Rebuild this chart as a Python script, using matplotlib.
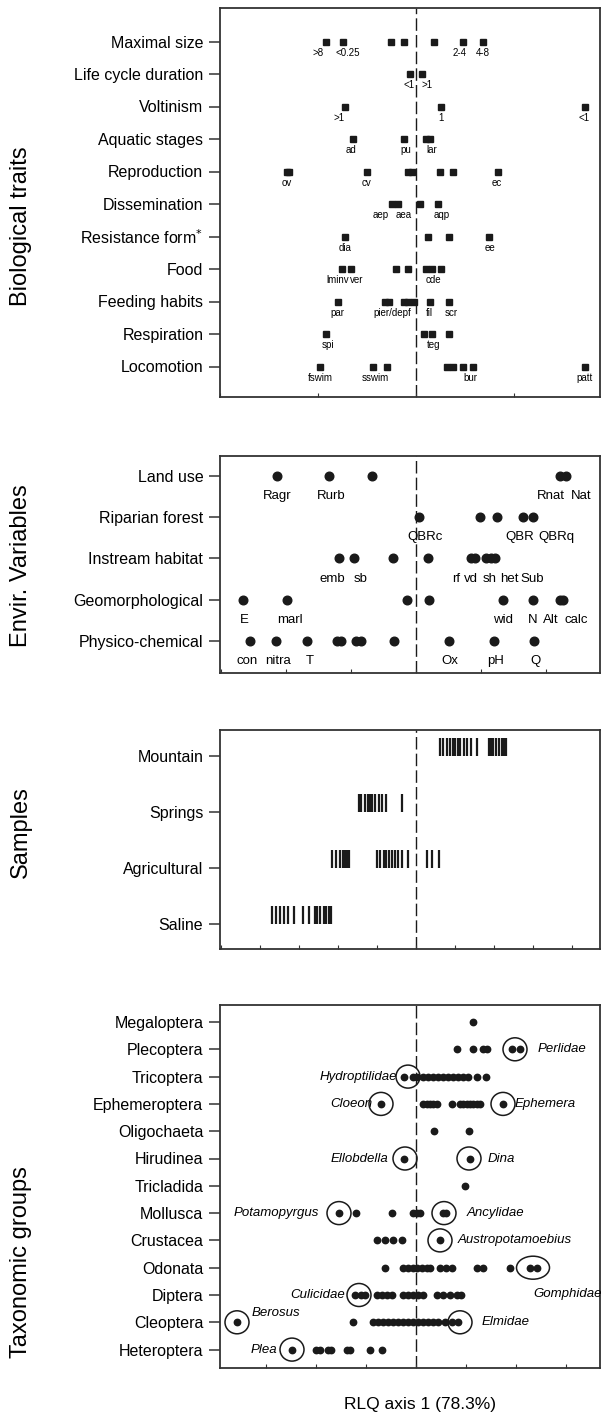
import matplotlib
matplotlib.use("Agg")
import matplotlib.pyplot as plt
from matplotlib.patches import Ellipse

plt.rcParams['font.family'] = ['Liberation Sans', 'DejaVu Sans']

# ---------------- data ----------------
# Biological traits (RLQ axis 1 scores of trait modalities)
trait_rows = ['Maximal size', 'Life cycle duration', 'Voltinism', 'Aquatic stages',
              'Reproduction', 'Dissemination', 'Resistance form$^{*}$', 'Food',
              'Feeding habits', 'Respiration', 'Locomotion']
trait_x = [
    [-0.46, -0.37, -0.13, -0.06, 0.09, 0.24, 0.34],
    [-0.03, 0.03],
    [-0.36, 0.13, 0.86],
    [-0.32, -0.06, 0.05, 0.07],
    [-0.66, -0.65, -0.25, -0.04, -0.02, 0.12, 0.19, 0.42],
    [-0.12, -0.09, 0.02, 0.11],
    [-0.36, 0.06, 0.17, 0.37],
    [-0.38, -0.33, -0.10, -0.04, 0.05, 0.08, 0.13],
    [-0.40, -0.16, -0.14, -0.06, -0.04, -0.01, 0.07, 0.17],
    [-0.46, 0.04, 0.08, 0.17],
    [-0.49, -0.22, -0.15, 0.16, 0.19, 0.24, 0.29, 0.86],
]
trait_lab = [
    [('>8', -0.50), ('<0.25', -0.35), ('2-4', 0.22), ('4-8', 0.34)],
    [('<1', -0.035), ('>1', 0.056)],
    [('>1', -0.39), ('1', 0.13), ('<1', 0.86)],
    [('ad', -0.33), ('pu', -0.05), ('lar', 0.08)],
    [('ov', -0.66), ('cv', -0.25), ('ec', 0.41)],
    [('aep', -0.18), ('aea', -0.065), ('aqp', 0.13)],
    [('dia', -0.36), ('ee', 0.38)],
    [('lminv', -0.40), ('ver', -0.30), ('cde', 0.09)],
    [('par', -0.40), ('pier/depf', -0.12), ('fil', 0.07), ('scr', 0.18)],
    [('spi', -0.45), ('teg', 0.09)],
    [('fswim', -0.49), ('sswim', -0.21), ('bur', 0.28), ('patt', 0.86)],
]

# Environmental variables
env_rows = ['Land use', 'Riparian forest', 'Instream habitat', 'Geomorphological',
            'Physico-chemical']
env_x = [
    [-1.07, -0.67, -0.34, 1.11, 1.15],
    [0.02, 0.49, 0.62, 0.82, 0.90],
    [-0.59, -0.48, -0.18, 0.09, 0.42, 0.45, 0.54, 0.58, 0.61],
    [-1.33, -0.99, -0.07, 0.10, 0.67, 0.90, 1.11, 1.13],
    [-1.28, -1.08, -0.84, -0.61, -0.58, -0.46, -0.42, -0.17, 0.25, 0.60, 0.91],
]
env_lab = [
    [('Ragr', -1.07), ('Rurb', -0.65), ('Rnat', 1.04), ('Nat', 1.27)],
    [('QBRc', 0.07), ('QBR', 0.80), ('QBRq', 1.08)],
    [('emb', -0.64), ('sb', -0.43), ('rf', 0.31), ('vd', 0.42), ('sh', 0.57),
     ('het', 0.72), ('Sub', 0.89)],
    [('E', -1.32), ('marl', -0.97), ('wid', 0.67), ('N', 0.90), ('Alt', 1.04),
     ('calc', 1.23)],
    [('con', -1.30), ('nitra', -1.06), ('T', -0.82), ('Ox', 0.26), ('pH', 0.61),
     ('Q', 0.92)],
]

# Samples
sample_rows = ['Mountain', 'Springs', 'Agricultural', 'Saline']
sample_x = [
    [0.31, 0.35, 0.40, 0.44, 0.47, 0.50, 0.54, 0.56, 0.61, 0.66, 0.70, 0.78,
     0.93, 0.96, 0.99, 1.03, 1.06, 1.10, 1.13, 1.16],
    [-0.73, -0.70, -0.66, -0.62, -0.59, -0.56, -0.52, -0.48, -0.43, -0.39, -0.18],
    [-1.08, -1.03, -0.98, -0.94, -0.91, -0.88, -0.86, -0.50, -0.46, -0.41, -0.38,
     -0.34, -0.31, -0.27, -0.23, -0.18, -0.10, 0.14, 0.20, 0.29],
    [-1.85, -1.79, -1.74, -1.69, -1.64, -1.57, -1.45, -1.37, -1.30, -1.27, -1.23,
     -1.18, -1.15, -1.11, -1.09],
]

# Taxonomic groups
taxa_rows = ['Megaloptera', 'Plecoptera', 'Tricoptera', 'Ephemeroptera', 'Oligochaeta',
             'Hirudinea', 'Tricladida', 'Mollusca', 'Crustacea', 'Odonata', 'Diptera',
             'Cleoptera', 'Heteroptera']
taxa_x = [
    [0.57],
    [0.41, 0.57, 0.67, 0.71, 0.96, 1.04],
    [-0.12, -0.03, 0.01, 0.07, 0.12, 0.17, 0.22, 0.27, 0.32, 0.37, 0.42, 0.47, 0.52,
     0.61, 0.70],
    [-0.35, 0.07, 0.11, 0.14, 0.17, 0.21, 0.36, 0.44, 0.47, 0.51, 0.54, 0.57, 0.61,
     0.64, 0.87],
    [0.18, 0.53],
    [-0.12, 0.54],
    [0.49],
    [-0.77, -0.60, -0.24, -0.03, 0.01, 0.04, 0.27, 0.30],
    [-0.39, -0.31, -0.23, -0.14, 0.24],
    [-0.31, -0.13, -0.08, -0.03, 0.01, 0.06, 0.11, 0.14, 0.24, 0.30, 0.36, 0.61, 0.67,
     0.94, 1.14, 1.21],
    [-0.61, -0.55, -0.51, -0.39, -0.34, -0.29, -0.24, -0.13, -0.08, -0.03, 0.02, 0.07,
     0.21, 0.27, 0.34, 0.41, 0.45],
    [-1.79, -0.63, -0.43, -0.38, -0.33, -0.28, -0.23, -0.18, -0.13, -0.08, -0.03, 0.02,
     0.07, 0.12, 0.17, 0.22, 0.29, 0.36, 0.42],
    [-1.24, -1.00, -0.96, -0.88, -0.85, -0.69, -0.66, -0.46, -0.34],
]
# highlighted families: name, row, circle centre, label anchor x, label row shift
fam_name = ['Perlidae', 'Hydroptilidae', 'Cloeon', 'Ephemera', 'Ellobdella', 'Dina',
            'Potamopyrgus', 'Ancylidae', 'Austropotamoebius', 'Gomphidae', 'Culicidae',
            'Berosus', 'Elmidae', 'Plea']
fam_row = [1, 2, 3, 3, 5, 5, 7, 7, 8, 9, 10, 11, 11, 12]
fam_x = [0.99, -0.08, -0.35, 0.87, -0.11, 0.53, -0.77, 0.28, 0.24, 1.17, -0.57, -1.79,
         0.44, -1.24]
fam_lab_x = [1.22, -0.19, -0.44, 0.99, -0.28, 0.72, -0.97, 0.51, 0.42, 1.17, -0.71,
             -1.64, 0.66, -1.39]
fam_lab_dy = [0, 0, 0, 0, 0, 0, 0, 0, 0, 0.95, 0, -0.35, 0, 0]

# ---------------- layout (pixels of a 607 x 1423 image) ----------------
W, H = 607, 1423
fig = plt.figure(figsize=(W / 100, H / 100), dpi=100)
LEFT, RIGHT = 220, 600
ink = '#1a1a1a'


def panel(top, bottom, row0, step, nrows, px_unit, names, title, title_y):
    ax = fig.add_axes([LEFT / W, 1 - bottom / H, (RIGHT - LEFT) / W, (bottom - top) / H])
    ax.set_xticks([t * 0.5 for t in range(-6, 7)])
    ax.set_yticks(range(nrows))
    ax.set_xlim((LEFT - 416) / px_unit, (RIGHT - 416) / px_unit)
    ax.set_ylim((bottom - row0) / step, (top - row0) / step)
    ax.set_yticklabels(names, fontsize=11.5)
    ax.tick_params(axis='y', length=8, width=1.1, pad=4, color='#333333')
    ax.tick_params(axis='x', direction='in', length=3, width=0.8, labelbottom=False,
                   color='#333333')
    for s in ax.spines.values():
        s.set_linewidth(1.3)
        s.set_color('#333333')
    ax.axvline(0, color=ink, lw=1.0, ls=(0, (9, 3)), zorder=1)
    fig.text(21 / W, 1 - title_y / H, title, rotation=90, fontsize=17,
             ha='center', va='center')
    return ax


# Biological traits
ax1 = panel(8, 397, 41.5, 32.5, len(trait_rows), 196, trait_rows,
            'Biological traits', 226)
for i, xs in enumerate(trait_x):
    ax1.plot(xs, [i] * len(xs), 's', ms=3.8, color=ink, zorder=3)
    for txt, lx in trait_lab[i]:
        ax1.annotate(txt, (lx, i), xytext=(0, -8), textcoords='offset points',
                     ha='center', va='center', fontsize=7)

# Environmental variables
ax2 = panel(456, 673, 476, 41.2, len(env_rows), 130, env_rows,
            'Envir. Variables', 566)
for i, xs in enumerate(env_x):
    ax2.plot(xs, [i] * len(xs), 'o', ms=6.2, color=ink, zorder=3)
    for txt, lx in env_lab[i]:
        ax2.annotate(txt, (lx, i), xytext=(0, -14.5), textcoords='offset points',
                     ha='center', va='center', fontsize=9.5)

# Samples
ax3 = panel(730, 949, 756, 56, len(sample_rows), 78, sample_rows, 'Samples', 832)
for i, xs in enumerate(sample_x):
    ax3.vlines(xs, i - 0.33, i, color=ink, lw=1.6, zorder=3)

# Taxonomic groups
tx_unit, ty_step = 100, 27.3
ax4 = panel(1005, 1368, 1022, ty_step, len(taxa_rows), tx_unit, taxa_rows,
            'Taxonomic groups', 1262)
for i, xs in enumerate(taxa_x):
    ax4.plot(xs, [i] * len(xs), 'o', ms=4.6, color=ink, zorder=3)
for k, name in enumerate(fam_name):
    r = fam_row[k]
    w = 33 if name == 'Gomphidae' else 24
    ax4.add_patch(Ellipse((fam_x[k], r), w / tx_unit, 23 / ty_step, fill=False,
                          lw=1.1, edgecolor=ink, zorder=4))
    ha = 'left' if fam_lab_x[k] > fam_x[k] or name == 'Gomphidae' else 'right'
    ax4.text(fam_lab_x[k], r + fam_lab_dy[k], name, ha=ha, va='center',
             fontsize=9.5, style='italic')

fig.text(420 / W, 1 - 1405 / H, 'RLQ axis 1 (78.3%)', fontsize=12.5,
         ha='center', va='center')

fig.savefig('out.png', dpi=100)
